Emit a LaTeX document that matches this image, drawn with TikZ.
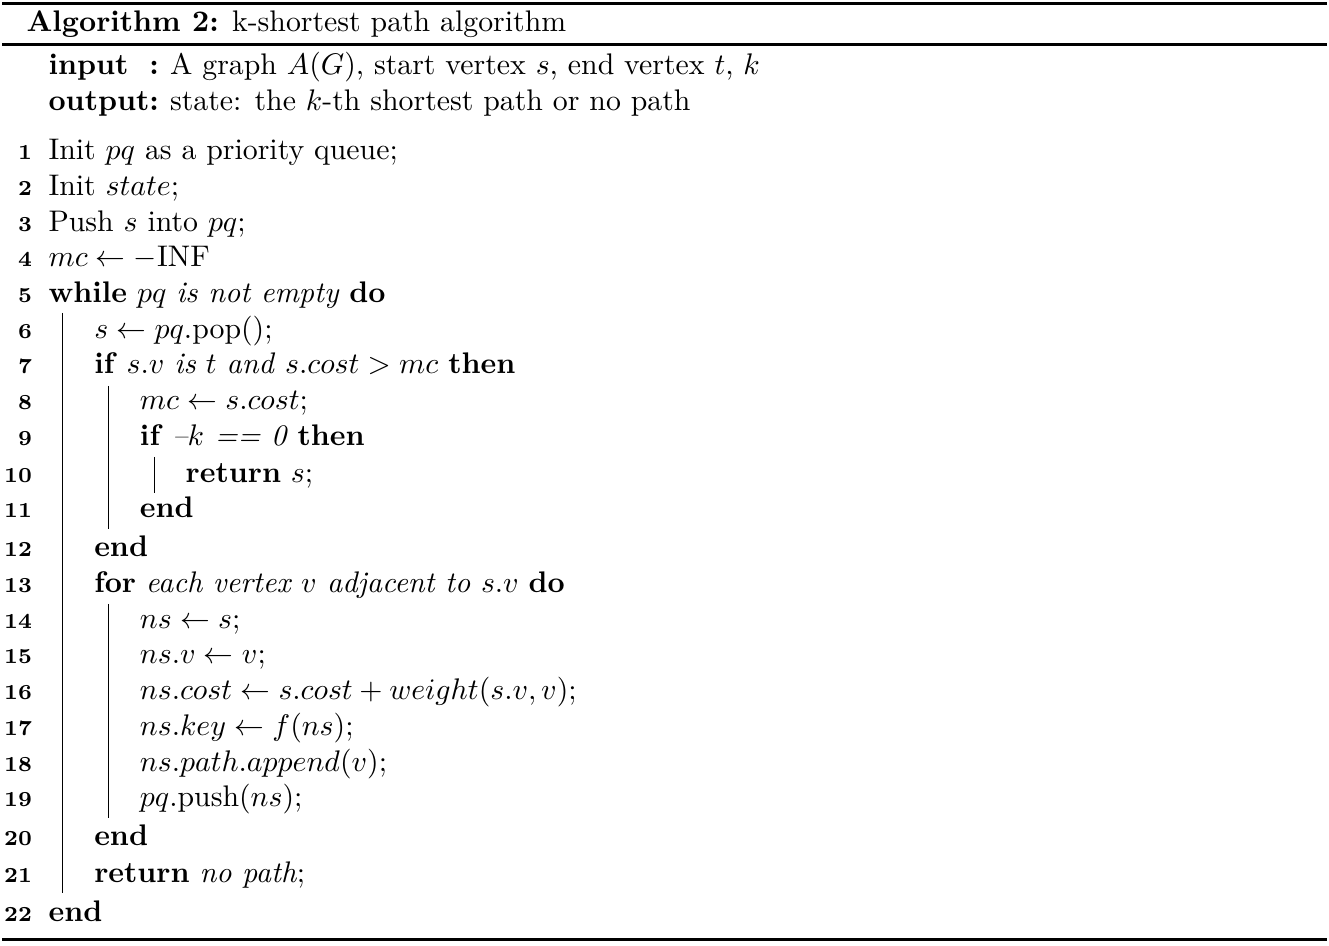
\documentclass[tikz,border=0pt]{standalone}
\usepackage{amsmath}
\usepackage{amssymb}
\usepackage{tikz}
\usetikzlibrary{positioning}

\begin{document}
\begin{tikzpicture}[x=0.3356pt,y=-0.3356pt,
  lnum/.style={anchor=base east,inner sep=0pt,font=\fontsize{7.2}{8}\selectfont\bfseries},
  ltext/.style={anchor=base west,inner sep=0pt},
  vbar/.style={line width=0.4pt},
  algrule/.style={line width=0.8pt}]
  \useasboundingbox (0,0) rectangle (1329,946);
  \draw[algrule] (2,3.5)--(1327,3.5);
  \draw[line width=0.7pt] (2,44.5)--(1327,44.5);
  \draw[algrule] (2,939.5)--(1327,939.5);

  \node[ltext] (title) at (26,31.7) {\textbf{Algorithm 2:} k-shortest path algorithm};
  \node[ltext] (kwout) at (48,111) {\textbf{output:}};
  \node[ltext] (kwin) at (48,75) {\textbf{input}};
  \node[anchor=base east,inner sep=0pt] (incolon) at (kwout.base east |- kwin.base) {\textbf{:}};
  \node[ltext] (intext) at (incolon.base east) {\ A graph $A(G)$, start vertex $s$, end vertex $t$, $k$};
  \node[ltext] (outtext) at (kwout.base east) {\ state: the $k$-th shortest path or no path};

  \foreach \n/\lev/\yy/\txt in {
    1/0/160/{Init $pq$ as a priority queue;},
    2/0/196/{Init $state$;},
    3/0/231.5/{Push $s$ into $pq$;},
    4/0/267/{$mc \leftarrow -\mathrm{INF}$},
    5/0/303/{\textbf{while} $pq$ \emph{is not empty} \textbf{do}},
    6/1/338.5/{$s \leftarrow pq$.pop$()$;},
    7/1/374/{\textbf{if} $s.v$ \emph{is} $t$ \emph{and} $s.cost > mc$ \textbf{then}},
    8/2/410/{$mc \leftarrow s.cost$;},
    9/2/446/{\textbf{if} \emph{--$k$ == 0} \textbf{then}},
    10/3/482.5/{\textbf{return} $s$;},
    11/2/518/{\textbf{end}},
    12/1/557/{\textbf{end}},
    13/1/593/{\textbf{for} \emph{each vertex $v$ adjacent to $s.v$} \textbf{do}},
    14/2/628.5/{$ns \leftarrow s$;},
    15/2/664/{$ns.v \leftarrow v$;},
    16/2/700/{$ns.cost \leftarrow s.cost + weight(s.v, v)$;},
    17/2/736/{$ns.key \leftarrow f(ns)$;},
    18/2/771.5/{$ns.path.append(v)$;},
    19/2/807/{$pq$.push$(ns)$;},
    20/1/846/{\textbf{end}},
    21/1/882/{\textbf{return} \emph{no path};},
    22/0/921.5/{\textbf{end}}}{
    \node[lnum] (n\n) at (32.5,\yy) {\n};
    \node[ltext] (l\n) at (48+45.7*\lev,\yy) {\txt};
  }

  \draw[vbar] (62.3,313)--(62.3,893);
  \draw[vbar] (108.3,386)--(108.3,529);
  \draw[vbar] (154.3,457)--(154.3,493);
  \draw[vbar] (108.3,604)--(108.3,818);
\end{tikzpicture}
\end{document}
